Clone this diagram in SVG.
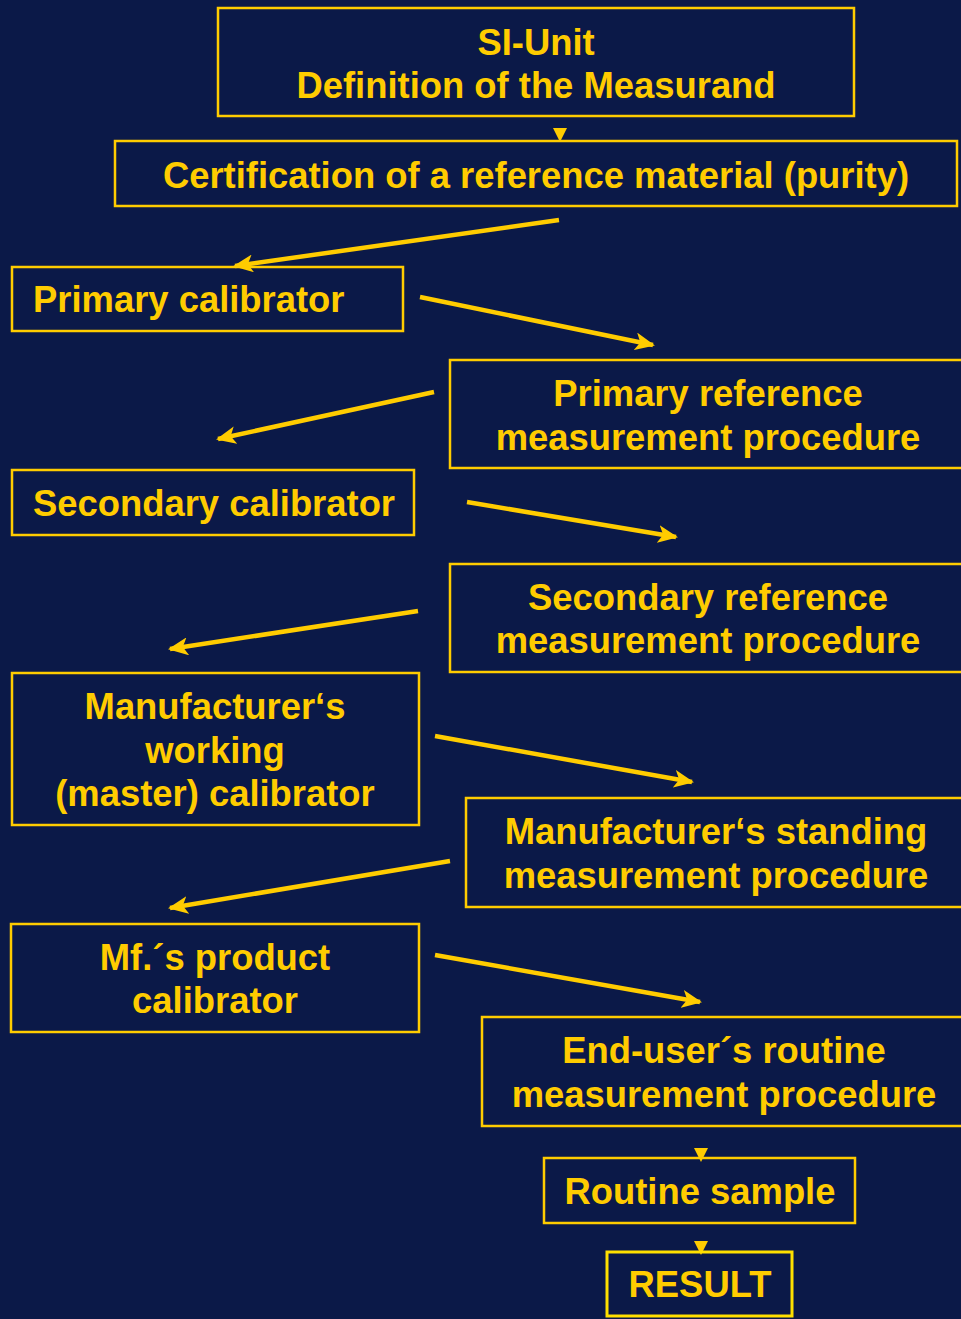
<svg xmlns="http://www.w3.org/2000/svg" width="961" height="1319" viewBox="0 0 961 1319">
<defs>
<style>
.box{fill:none;stroke:#ffcc00;stroke-width:2.5}
.t{font-family:"Liberation Sans",Arial,sans-serif;font-weight:bold;font-size:36.4px;fill:#ffcc00}
.c{text-anchor:middle}
.ln{stroke:#ffcc00;stroke-width:4.5;fill:none}
.tri{fill:#ffcc00}
</style>
<marker id="ah" viewBox="0 0 20 18" refX="18" refY="9" markerWidth="20" markerHeight="18" markerUnits="userSpaceOnUse" orient="auto">
<path d="M0,0 L20,9 L0,18 L5,9 Z" fill="#ffcc00"/>
</marker>
</defs>
<rect width="961" height="1319" fill="#0b1948"/>
<g id="connectors">
<path class="tri" d="M553,128 L567,128 L560,142 Z"/>
<line class="ln" x1="559" y1="220" x2="235" y2="266" marker-end="url(#ah)"/>
<line class="ln" x1="420" y1="297" x2="653" y2="345" marker-end="url(#ah)"/>
<line class="ln" x1="434" y1="392" x2="218" y2="439" marker-end="url(#ah)"/>
<line class="ln" x1="467" y1="502" x2="676" y2="537" marker-end="url(#ah)"/>
<line class="ln" x1="418" y1="611" x2="170" y2="649" marker-end="url(#ah)"/>
<line class="ln" x1="435" y1="736" x2="692" y2="782" marker-end="url(#ah)"/>
<line class="ln" x1="450" y1="861" x2="170" y2="908" marker-end="url(#ah)"/>
<line class="ln" x1="435" y1="955" x2="700" y2="1002" marker-end="url(#ah)"/>
<path class="tri" d="M694,1148 L708,1148 L701,1162 Z"/>
<path class="tri" d="M694,1241 L708,1241 L701,1255 Z"/>
</g>
<g id="si-unit">
<rect class="box" x="218" y="8" width="636" height="108"/>
<text class="t c" x="536" y="55">SI-Unit</text>
<text class="t c" x="536" y="98">Definition of the Measurand</text>
</g>
<g id="certification">
<rect class="box" x="115" y="141" width="842" height="65"/>
<text class="t c" x="536" y="188">Certification of a reference material (purity)</text>
</g>
<g id="primary-calibrator">
<rect class="box" x="12" y="267" width="391" height="64"/>
<text class="t" x="33" y="312">Primary calibrator</text>
</g>
<g id="primary-rmp">
<rect class="box" x="450" y="360" width="514" height="108"/>
<text class="t c" x="708" y="406">Primary reference</text>
<text class="t c" x="708" y="450">measurement procedure</text>
</g>
<g id="secondary-calibrator">
<rect class="box" x="12" y="470" width="402" height="65"/>
<text class="t" x="33" y="516">Secondary calibrator</text>
</g>
<g id="secondary-rmp">
<rect class="box" x="450" y="564" width="514" height="108"/>
<text class="t c" x="708" y="610">Secondary reference</text>
<text class="t c" x="708" y="653">measurement procedure</text>
</g>
<g id="working-calibrator">
<rect class="box" x="12" y="673" width="407" height="152"/>
<text class="t c" x="215" y="719">Manufacturer‘s</text>
<text class="t c" x="215" y="763">working</text>
<text class="t c" x="215" y="806">(master) calibrator</text>
</g>
<g id="standing-mp">
<rect class="box" x="466" y="798" width="498" height="109"/>
<text class="t c" x="716" y="844">Manufacturer‘s standing</text>
<text class="t c" x="716" y="888">measurement procedure</text>
</g>
<g id="product-calibrator">
<rect class="box" x="11" y="924" width="408" height="108"/>
<text class="t c" x="215" y="970">Mf.´s product</text>
<text class="t c" x="215" y="1013">calibrator</text>
</g>
<g id="routine-mp">
<rect class="box" x="482" y="1017" width="482" height="109"/>
<text class="t c" x="724" y="1063">End-user´s routine</text>
<text class="t c" x="724" y="1107">measurement procedure</text>
</g>
<g id="routine-sample">
<rect class="box" x="544" y="1158" width="311" height="65"/>
<text class="t c" x="700" y="1204">Routine sample</text>
</g>
<g id="result">
<rect class="box" x="607" y="1252" width="185" height="64" style="stroke:#ffe000;stroke-width:3"/>
<text class="t c" x="700" y="1297">RESULT</text>
</g>
</svg>
